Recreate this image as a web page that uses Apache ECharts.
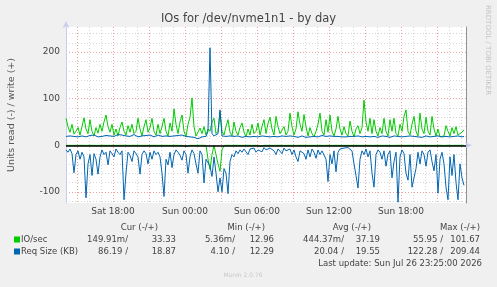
<!DOCTYPE html>
<html>
<head>
<meta charset="utf-8">
<script src="https://cdn.jsdelivr.net/npm/echarts@6/dist/echarts.min.js"></script>
<style>
html, body { margin: 0; padding: 0; background: #f0f0f0; }
#IOs { width: 497px; height: 287px; }
</style>
</head>
<body>
<div id="IOs"></div>
<script>
// munin "IOs for /dev/nvme1n1 - by day", 10 min steps from Sat 14:05
var seriesNames = ['IO/sec', 'Req Size (KB)'];
var seriesColors = ['#00cc00', '#0066b3'];

// IO/sec write (+)
var ioWrite = [
    58, 40, 28, 45, 24, 30, 38, 22, 40, 59,
    35, 25, 55, 30, 20, 38, 26, 45, 30, 50,
    65, 40, 28, 45, 22, 35, 20, 38, 50, 30,
    22, 42, 28, 45, 25, 30, 58, 35, 20, 40,
    55, 28, 38, 58, 30, 22, 45, 25, 40, 58,
    30, 20, 48, 30, 78, 45, 25, 50, 65, 30,
    18, 45, 60, 101.67, 40, 20, 28, 37, 25, 40,
    22, 35, 30, 50, 58, 25, 30, 72, 30, 22,
    40, 55, 28, 20, 50, 30, 22, 38, 48, 28,
    18, 35, 22, 45, 25, 30, 48, 22, 40, 55,
    25, 47, 60, 35, 22, 62, 40, 25, 28, 40,
    22, 30, 69, 40, 22, 35, 72, 45, 30, 66,
    40, 20, 38, 25, 18, 30, 45, 69, 30, 22,
    55, 28, 65, 30, 20, 35, 62, 35, 22, 40,
    25, 20, 52, 30, 18, 35, 42, 25, 38, 97,
    50, 30, 58, 25, 55, 30, 20, 38, 25, 58,
    30, 20, 55, 30, 58, 25, 20, 45, 30, 62,
    76, 30, 22, 45, 62, 30, 20, 69, 35, 25,
    60, 30, 22, 62, 35, 20, 35, 18, 22, 20,
    42, 30, 20, 38, 25, 40, 22, 25, 28, 33.33
];
// IO/sec read (-)
var ioRead = [
    0.2, 0.1, 0.2, 0.3, 0.2, 0.1, 0.2, 0.2, 0.1, 0.2,
    0.3, 0.2, 0.1, 0.2, 0.2, 0.1, 0.3, 0.2, 0.1, 0.2,
    0.2, 0.1, 0.2, 0.3, 0.2, 0.1, 0.2, 0.2, 0.1, 0.2,
    0.1, 0.2, 0.2, 0.3, 0.1, 0.2, 0.2, 0.1, 0.2, 0.3,
    0.2, 0.1, 0.2, 0.2, 0.1, 0.3, 0.2, 0.1, 0.2, 0.2,
    0.1, 0.2, 0.3, 0.2, 0.1, 0.2, 0.2, 0.1, 0.2, 0.3,
    3, 0.2, 0.1, 0.2, 0.3, 0.2, 0.1, 0.2, 0.1, 0.2,
    0.3, 30, 52, 20, 0.5, 0.3, 40, 55.95, 10, 0.3,
    0.2, 0.1, 0.2, 0.3, 0.2, 0.1, 0.2, 0.2, 0.1, 0.2,
    0.2, 0.1, 0.2, 0.3, 0.2, 0.1, 0.2, 2, 0.1, 0.2,
    0.1, 0.2, 0.2, 0.3, 0.1, 0.2, 0.2, 0.1, 0.2, 0.3,
    0.2, 0.1, 0.2, 0.2, 0.1, 0.3, 0.2, 0.1, 0.2, 0.2,
    0.1, 0.2, 0.3, 0.2, 0.1, 0.2, 0.2, 0.1, 0.2, 0.3,
    0.2, 0.1, 0.2, 0.3, 0.2, 0.1, 0.2, 0.2, 0.1, 0.2,
    0.3, 0.2, 0.1, 0.2, 0.2, 0.1, 0.3, 0.2, 0.1, 0.2,
    0.2, 0.1, 0.2, 0.3, 0.2, 0.1, 0.2, 0.2, 0.1, 0.2,
    0.1, 0.2, 0.2, 0.3, 0.1, 0.2, 0.2, 0.1, 0.2, 0.3,
    0.2, 0.1, 0.2, 0.2, 0.1, 0.3, 0.2, 0.1, 0.2, 0.2,
    0.1, 0.2, 0.3, 0.2, 0.1, 0.2, 0.2, 0.1, 0.2, 0.3,
    0.2, 0.1, 0.2, 0.3, 0.2, 0.1, 0.2, 0.2, 0.1, 0.15
];
// Req Size write (+)
var sizeWrite = [
    19, 18, 20, 17, 19, 21, 18, 17, 20, 19,
    18, 20, 21, 19, 22, 20, 18, 21, 19, 22,
    21, 23, 20, 22, 19, 21, 23, 20, 22, 21,
    20, 22, 19, 21, 23, 20, 18, 21, 20, 22,
    21, 19, 22, 20, 18, 21, 22, 20, 19, 21,
    20, 22, 19, 21, 20, 18, 21, 19, 22, 20,
    19, 21, 18, 20, 17, 15, 14, 16, 18, 20,
    19, 30, 209.44, 25, 20, 18, 25, 76, 20, 18,
    19, 18, 20, 17, 19, 18, 20, 19, 17, 18,
    19, 17, 18, 20, 19, 17, 18, 19, 20, 18,
    19, 20, 18, 17, 19, 21, 18, 19, 20, 18,
    19, 18, 20, 21, 19, 18, 17, 19, 20, 18,
    17, 19, 18, 20, 19, 17, 18, 19, 21, 18,
    19, 18, 20, 17, 19, 18, 19, 20, 18, 17,
    18, 20, 19, 17, 19, 18, 20, 19, 18, 20,
    19, 17, 18, 20, 19, 18, 17, 19, 20, 18,
    19, 18, 17, 19, 20, 18, 19, 17, 18, 20,
    19, 18, 20, 17, 19, 21, 18, 19, 17, 18,
    20, 19, 18, 17, 19, 18, 20, 19, 18, 17,
    19, 20, 18, 17, 19, 18, 20, 19, 18, 18.87
];
// Req Size read (-)
var sizeRead = [
    10, 15, 8, 18, 59, 20, 12, 30, 15, 25,
    113, 40, 20, 65, 18, 30, 62, 25, 10, 20,
    15, 42, 12, 18, 25, 8, 15, 20, 12, 117,
    60, 15, 22, 35, 12, 18, 25, 62, 20, 12,
    18, 40, 15, 30, 12, 20, 15, 25, 60, 110,
    30, 42, 15, 48, 20, 10, 15, 22, 32, 12,
    20, 60, 25, 10, 18, 40, 60, 12, 20, 81,
    30, 30, 45, 67, 25, 60, 100, 70, 100, 50,
    60, 104, 35, 20, 25, 12, 18, 10, 15, 8,
    12, 20, 8, 12, 6, 15, 10, 8, 14, 5,
    10, 12, 6, 8, 12, 20, 8, 10, 18, 6,
    12, 15, 8, 20, 10, 25, 35, 12, 8, 18,
    30, 10, 25, 8, 15, 28, 10, 20, 12, 8,
    30, 78, 20, 40, 12, 57, 15, 8, 12, 6,
    10, 5, 8, 12, 40, 65, 92, 30, 12, 20,
    8, 25, 12, 60, 90, 20, 10, 15, 30, 12,
    45, 20, 12, 70, 35, 15, 122.28, 25, 10, 18,
    60, 75, 20, 90, 89, 50, 15, 40, 12, 20,
    45, 15, 10, 35, 55, 20, 103, 30, 15, 40,
    90, 117, 25, 65, 20, 80, 117, 40, 70, 86.19
];

var yLabels = [-100, 0, 100, 200];
var xLabels = ['Sat 18:00', 'Sun 00:00', 'Sun 06:00', 'Sun 12:00', 'Sun 18:00'];
var statHeads = ['Cur (-/+)', 'Min (-/+)', 'Avg (-/+)', 'Max (-/+)'];
var ioStats = ['149.91m/', '33.33', '5.36m/', '12.96', '444.37m/', '37.19', '55.95 /', '101.67'];
var sizeStats = ['86.19 /', '18.87', '4.10 /', '12.29', '20.04 /', '19.55', '122.28 /', '209.44'];
var lastUpdate = 'Last update: Sun Jul 26 23:25:00 2026';

var t0 = Date.UTC(2026, 6, 25, 14, 5);
var step = 10 * 60 * 1000;
var tMax = Date.UTC(2026, 6, 26, 23, 25);
var HOUR = 3600 * 1000;
var xLabelTimes = [Date.UTC(2026, 6, 25, 18), Date.UTC(2026, 6, 26, 0), Date.UTC(2026, 6, 26, 6),
    Date.UTC(2026, 6, 26, 12), Date.UTC(2026, 6, 26, 18)];

var MGRID = '#f0a0a0', GRID = '#d4d4d4';

// grid: red every 3h / 100 units, grey every hour / 20 units
var xMajor = [], xMinor = [];
for (var h = Date.UTC(2026, 6, 25, 15); h < tMax; h += HOUR) {
    if (new Date(h).getUTCHours() % 3 == 0) xMajor.push(h); else xMinor.push(h);
}
var yMinor = [];
for (var v = -120; v <= 240; v += 20) {
    if (v % 100 != 0) yMinor.push(v);
}

function fmtTime(val) {
    var i = xLabelTimes.indexOf(val);
    return i >= 0 ? xLabels[i] : '';
}
function pairs(arr, sign) {
    return arr.map(function (v, i) { return [t0 + i * step, sign * v]; });
}

var font = 'DejaVu Sans';
var txtColor = '#444';
var colsX = [128, 176, 235, 274, 344, 380, 443, 480];
var headsX = [158, 265, 371, 480];

function text(str, x, y, align, size, color) {
    return {
        type: 'text', x: x, y: y, silent: true,
        style: { text: str, fill: color || txtColor, font: (size || 8.5) + 'px ' + font, align: align, verticalAlign: 'middle' }
    };
}

var graphics = [];
statHeads.forEach(function (s, i) { graphics.push(text(s, headsX[i], 228, 'right')); });
[ioStats, sizeStats].forEach(function (row, r) {
    var y = 240 + r * 12;
    graphics.push({ type: 'rect', shape: { x: 14, y: y - 3.5, width: 6, height: 6 }, style: { fill: seriesColors[r] }, silent: true });
    graphics.push(text(seriesNames[r], 21, y, 'left'));
    row.forEach(function (s, i) { graphics.push(text(s, colsX[i], y, 'right')); });
});
graphics.push(text(lastUpdate, 482, 264, 'right'));
graphics.push(text('Munin 2.0.76', 243, 275, 'center', 6, '#c8c8c8'));
graphics.push({
    type: 'text', x: 488, y: 5, rotation: -Math.PI / 2, silent: true,
    style: { text: 'RRDTOOL / TOBI OETIKER', fill: '#c4c4c4', font: '7px ' + font, align: 'left', verticalAlign: 'middle' }
});

function line(name, data, color, sign) {
    return {
        name: name, type: 'line', data: pairs(data, sign), showSymbol: false, silent: true,
        lineStyle: { color: color, width: 1 }, itemStyle: { color: color }
    };
}

var series = [
    line(seriesNames[0], ioRead, seriesColors[0], -1),
    line(seriesNames[0], ioWrite, seriesColors[0], 1),
    line(seriesNames[1], sizeRead, seriesColors[1], -1),
    line(seriesNames[1], sizeWrite, seriesColors[1], 1)
];
series[3].markLine = {
    silent: true, symbol: 'none', label: { show: false },
    lineStyle: { color: '#000', width: 1.5, type: 'solid' },
    data: [{ yAxis: 0 }]
};

var myChart = echarts.init(document.getElementById('IOs'));
var option = {
    backgroundColor: '#f0f0f0',
    animation: false,
    textStyle: { fontFamily: font },
    title: {
        text: 'IOs for /dev/nvme1n1 - by day', left: 'center', top: 13, padding: 0,
        textStyle: { fontSize: 11.5, fontWeight: 'normal', color: txtColor, fontFamily: font }
    },
    grid: {
        left: 66, right: 31, top: 27, bottom: 84, outerBoundsMode: 'none', containLabel: false,
        show: true, backgroundColor: '#fff', borderWidth: 0
    },
    xAxis: [{
        type: 'value', min: t0, max: tMax, position: 'bottom',
        axisLine: { show: true, lineStyle: { color: '#c8cdf0' }, symbol: ['none', 'arrow'], symbolSize: [5, 7], symbolOffset: [0, 6] },
        axisTick: { show: false, customValues: xMajor },
        axisLabel: { customValues: xLabelTimes, formatter: fmtTime, fontSize: 9, color: txtColor, margin: 4, fontFamily: font },
        splitLine: { show: true, lineStyle: { color: MGRID, type: [1, 2], width: 1 } }
    }, {
        type: 'value', min: t0, max: tMax, position: 'top',
        axisLine: { show: false }, axisLabel: { show: false },
        axisTick: { show: false, customValues: xMinor },
        splitLine: { show: true, lineStyle: { color: GRID, type: [1, 2], width: 1 } }
    }],
    yAxis: [{
        type: 'value', min: -124, max: 254, position: 'left',
        name: 'Units read (-) / write (+)', nameLocation: 'middle', nameGap: 49, nameRotate: 90,
        nameTextStyle: { fontSize: 9.5, color: '#555', fontFamily: font },
        axisLine: { show: true, lineStyle: { color: '#c8cdf0' }, symbol: ['none', 'arrow'], symbolSize: [5, 7], symbolOffset: [0, 6] },
        axisTick: { show: false, customValues: yLabels },
        axisLabel: { customValues: yLabels, fontSize: 9, color: txtColor, margin: 6, fontFamily: font },
        splitLine: { show: true, lineStyle: { color: MGRID, type: [1, 2], width: 1 } }
    }, {
        type: 'value', min: -124, max: 254, position: 'right',
        axisLine: { show: true, lineStyle: { color: '#909090' } }, axisLabel: { show: false },
        axisTick: { show: false, customValues: yMinor },
        splitLine: { show: true, lineStyle: { color: GRID, type: [1, 2], width: 1 } }
    }],
    graphic: graphics,
    series: series
};
myChart.setOption(option);
</script>
</body>
</html>
